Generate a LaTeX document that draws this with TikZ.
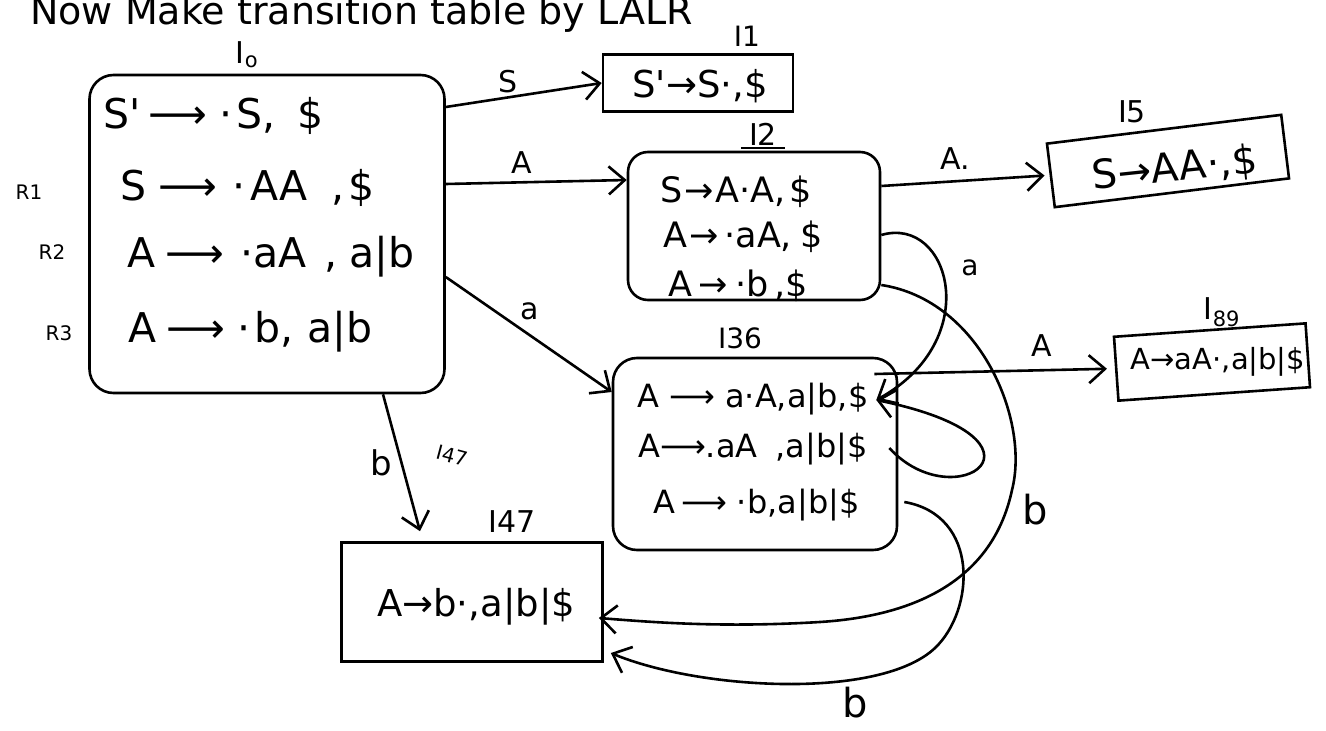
\documentclass[tikz,border=0pt]{standalone}
\usepackage{fontspec}
\setmainfont{DejaVu Sans}
\usetikzlibrary{arrows.meta,calc}
\begin{document}
\begin{tikzpicture}[x=1pt,y=-1pt,
  every node/.style={inner sep=0pt},
  boxs/.style={draw,line width=2.6pt},
  rbox/.style={boxs,rounded corners=24pt},
  itemA/.style={anchor=base west,font=\fontsize{41}{44}\selectfont},
  itemB/.style={anchor=base west,font=\fontsize{35}{38}\selectfont},
  itemC/.style={font=\fontsize{35}{38}\selectfont},
  lbl/.style={font=\fontsize{30}{32}\selectfont},
  sm/.style={font=\fontsize{20}{24}\selectfont},
  conn/.style={line width=2.6pt,-{Straight Barb[length=16pt,width=28pt]}},
  link/.style={line width=2.2pt},
]
\useasboundingbox (0,0) rectangle (1326,731);
\clip (0,0) rectangle (1326,731);

% heading (cut by the top edge)
\node[anchor=base west,font=\fontsize{38}{40}\selectfont] (hdr) at (30,24) {Now Make transition table by LALR};

% ---- I0
\node[rbox,minimum width=355pt,minimum height=318pt] (I0) at (267,234) {};
\node[lbl] (L0) at (247,55) {I\textsubscript{o}};
\node[itemA] (i0a) at (103,128) {S\textquotesingle\hspace{8pt}⟶\hspace{12pt}·\hspace{4pt}S,\hspace{22pt}\$};
\node[itemA] (i0b) at (120,200) {S\hspace{12pt}⟶\hspace{16pt}·\hspace{4pt}AA\hspace{24pt},\hspace{4pt}\$};
\node[itemA] (i0c) at (127,267) {A\hspace{10pt}⟶\hspace{16pt}·aA\hspace{18pt},\hspace{12pt}a|b};
\node[itemA] (i0d) at (128,342) {A\hspace{10pt}⟶\hspace{12pt}·\hspace{4pt}b,\hspace{14pt}a|b};
\node[sm] (r1) at (29,192) {R1};
\node[sm] (r2) at (52,252) {R2};
\node[sm] (r3) at (59,333) {R3};

% ---- I1
\node[boxs,minimum width=190pt,minimum height=57pt] (I1) at (698,83) {};
\node[itemC,font=\fontsize{37}{40}\selectfont] (t1) at (700,86) {S\textquotesingle→S·,\$};
\node[lbl,font=\fontsize{28}{30}\selectfont] (L1) at (747,36) {I1};

% ---- I2
\node[rbox,rounded corners=20pt,minimum width=252pt,minimum height=148pt] (I2) at (754,226) {};
\node[lbl] (L2) at (763,134) {I2};
\draw[link] ([yshift=-3pt,xshift=-8pt]L2.south west) -- ([yshift=-3pt,xshift=8pt]L2.south east);
\node[itemB] (i2a) at (660,202) {S\hspace{2pt}→\hspace{2pt}A·A,\hspace{4pt}\$};
\node[itemB] (i2b) at (663,247) {A\hspace{2pt}→\hspace{6pt}·aA,\hspace{8pt}\$};
\node[itemB] (i2c) at (668,296) {A\hspace{6pt}→\hspace{8pt}·b\hspace{6pt},\$};

% ---- I5
\node[boxs,minimum width=236pt,minimum height=64pt,rotate=7] (I5) at (1168,161) {};
\node[itemC,font=\fontsize{40}{42}\selectfont,rotate=6] (t5) at (1175,169) {S→AA·,\$};
\node[lbl] (L5) at (1132,112) {I5};

% ---- I36
\node[rbox,minimum width=284pt,minimum height=192pt] (I36) at (755,454) {};
\node[lbl,font=\fontsize{28}{30}\selectfont] (L36) at (740,338) {I36};
\node[itemB,font=\fontsize{32}{36}\selectfont] (i36a) at (637,407) {A ⟶ a·A,a|b,\$};
\node[itemB,font=\fontsize{32}{36}\selectfont] (i36b) at (638,457) {A⟶.aA\hspace{8pt} ,a|b|\$};
\node[itemB,font=\fontsize{32}{36}\selectfont] (i36c) at (653,513) {A\hspace{6pt}⟶\hspace{10pt}·b,a|b|\$};

% ---- I89
\node[boxs,minimum width=192pt,minimum height=64pt,rotate=4] (I89) at (1212,362) {};
\node[itemC,font=\fontsize{29}{32}\selectfont] (t89) at (1218,362) {A→aA·,a|b|\$};
\node[lbl] (L89) at (1222,312) {I\textsubscript{89}};

% ---- I47
\node[boxs,minimum width=261pt,minimum height=119pt] (I47) at (472,602) {};
\node[itemC,font=\fontsize{37}{40}\selectfont] (t47) at (476,607) {A→b·,a|b|\$};
\node[lbl] (L47) at (512,522) {I47};
\node[sm,rotate=-15] (s47) at (452,456) {I47};

% ---- transitions from I0
\draw[conn] ([yshift=127pt]I0.east) -- node[above=3pt,pos=0.4,lbl] {S} (I1.west);
\draw[conn] ([yshift=50pt]I0.east) -- node[above=8pt,pos=0.42,lbl] {A} ([yshift=46pt]I2.west);
\draw[conn] ([yshift=-43pt]I0.east) -- node[above right=4pt,pos=0.42,lbl] {a} ([yshift=62pt]I36.west);
\draw[conn] ([xshift=116pt]I0.south) -- node[left=8pt,lbl,font=\fontsize{34}{36}\selectfont] {b} ([xshift=-52pt,yshift=10pt]I47.north);

% ---- other transitions
\draw[conn] ([yshift=40pt]I2.east) -- node[above=10pt,pos=0.45,lbl] {A.} ([xshift=-5pt]I5.west);
\draw[conn] ([xshift=-24pt,yshift=80pt]I36.east) -- node[above=12pt,pos=0.72,lbl] {A} ([xshift=-8pt]I89.west);

\coordinate (t36) at ([xshift=-22pt,yshift=54pt]I36.east);
\draw[conn] ([yshift=-9pt]I2.east) .. controls (950,215) and (985,340) .. (t36);
\node[lbl,font=\fontsize{28}{30}\selectfont] (la) at (970,268) {a};
\draw[conn] ([xshift=-9pt,yshift=6pt]I36.east) .. controls (955,520) and (1070,440) .. (t36);

\draw[conn] ([yshift=-59pt]I2.east) .. controls (980,300) and (1030,420) .. (1012,490)
   .. controls (995,570) and (930,615) .. (820,622)
   .. controls (720,628) and (650,622) .. ([xshift=-5pt,yshift=-16pt]I47.east);
\node[lbl,font=\fontsize{40}{44}\selectfont] (lb1) at (1035,510) {b};

\draw[conn] ([xshift=6pt,yshift=-48pt]I36.east) .. controls (980,515) and (975,610) .. (935,648)
   .. controls (880,700) and (700,690) .. ([xshift=7pt,yshift=-51pt]I47.east);
\node[lbl,font=\fontsize{40}{44}\selectfont] (lb2) at (855,703) {b};
\end{tikzpicture}
\end{document}
